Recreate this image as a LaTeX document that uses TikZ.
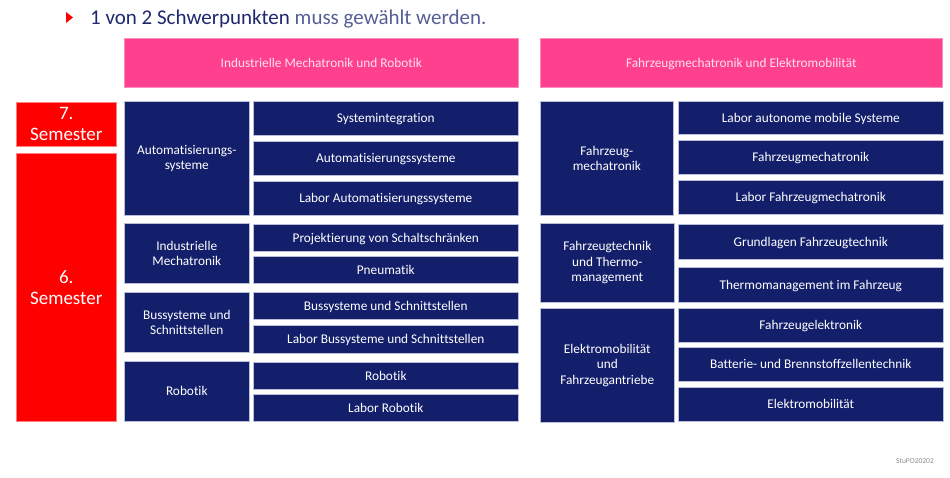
\documentclass[tikz,border=0pt]{standalone}
\usepackage{fontspec}
\setmainfont[Ligatures=NoCommon]{Carlito}
\usepackage{xcolor}
\usepackage{tikz}
\usetikzlibrary{shapes}

\definecolor{navy}{RGB}{19,31,107}
\definecolor{titleblue}{RGB}{30,40,110}
\definecolor{titlegray}{RGB}{85,95,150}
\definecolor{headpink}{RGB}{255,64,143}
\definecolor{semred}{RGB}{255,0,0}
\definecolor{boxline}{RGB}{185,190,215}

\begin{document}
\begin{tikzpicture}[x=1pt, y=-1pt,
    box/.style={rectangle, draw=boxline, line width=0.6pt, fill=navy, text=white, inner sep=0pt, anchor=north west, align=center, font=\fontsize{13.3}{15.5}\selectfont},
    course/.style={box, text height=8.6pt, text depth=0pt},
    head/.style={course, fill=headpink, draw=headpink!60, text=white!85!headpink},
    sem/.style={box, fill=semred, draw=semred!50, font=\fontsize{19}{21}\selectfont}]
    \useasboundingbox (0,0) rectangle (950,478);

    % Title
    \fill[semred] (66,12) coordinate (tri) -- (73,17.5) -- (66,23) -- cycle;
    \node (title) [anchor=base west, inner sep=0pt, font=\fontsize{21}{24}\selectfont] at (90,25)
        {\textcolor{titleblue}{1 von 2 Schwerpunkten} \textcolor{titlegray}{muss gewählt werden.}};

    % Headers
    \node (headIMR) [head, minimum width=394, minimum height=49] at (124,38) {Industrielle Mechatronik und Robotik};
    \node (headFE) [head, minimum width=402, minimum height=49] at (540,38) {Fahrzeugmechatronik und Elektromobilität};

    % Semesters
    \node (sem7) [sem, minimum width=100, minimum height=44] at (16,102) {7.\\Semester};
    \node (sem6) [sem, minimum width=100, minimum height=268] at (16,153) {6.\\Semester};

    % Industrielle Mechatronik und Robotik
    \node (catAuto) [box, minimum width=125, minimum height=114] at (124,101) {Automatisierungs-\\systeme};
    \node (catIndu) [box, minimum width=125, minimum height=60] at (124,223) {Industrielle\\Mechatronik};
    \node (catBus) [box, minimum width=125, minimum height=60] at (124,292) {Bussysteme und\\Schnittstellen};
    \node (catRobo) [course, minimum width=125, minimum height=60] at (124,361) {Robotik};

    \node (sysint) [course, minimum width=265, minimum height=34] at (253,101) {Systemintegration};
    \node (autosys) [course, minimum width=265, minimum height=34] at (253,141) {Automatisierungssysteme};
    \node (labauto) [course, minimum width=265, minimum height=34] at (253,181) {Labor Automatisierungssysteme};
    \node (projekt) [course, minimum width=265, minimum height=27] at (253,224) {Projektierung von Schaltschränken};
    \node (pneu) [course, minimum width=265, minimum height=27] at (253,256) {Pneumatik};
    \node (bussys) [course, minimum width=265, minimum height=27] at (253,292) {Bussysteme und Schnittstellen};
    \node (labbus) [course, minimum width=265, minimum height=28] at (253,325) {Labor Bussysteme und Schnittstellen};
    \node (robo) [course, minimum width=265, minimum height=27] at (253,362) {Robotik};
    \node (labrobo) [course, minimum width=265, minimum height=27] at (253,394) {Labor Robotik};

    % Fahrzeugmechatronik und Elektromobilitaet
    \node (catFahr) [box, minimum width=133, minimum height=114] at (540,101) {Fahrzeug-\\mechatronik};
    \node (catThermo) [box, minimum width=134, minimum height=79] at (540,223) {Fahrzeugtechnik\\und Thermo-\\management};
    \node (catElek) [box, minimum width=134, minimum height=114] at (540,308) {Elektromobilität\\und\\Fahrzeugantriebe};

    \node (labauton) [course, minimum width=265, minimum height=33] at (678,101) {Labor autonome mobile Systeme};
    \node (fzmech) [course, minimum width=265, minimum height=34] at (678,140) {Fahrzeugmechatronik};
    \node (labfzmech) [course, minimum width=265, minimum height=34] at (678,180) {Labor Fahrzeugmechatronik};
    \node (grundl) [course, minimum width=265, minimum height=35] at (678,224) {Grundlagen Fahrzeugtechnik};
    \node (thermo) [course, minimum width=265, minimum height=35] at (678,267) {Thermomanagement im Fahrzeug};
    \node (fzelek) [course, minimum width=265, minimum height=34] at (678,308) {Fahrzeugelektronik};
    \node (batt) [course, minimum width=265, minimum height=34] at (678,347) {Batterie- und Brennstoffzellentechnik};
    \node (elekmob) [course, minimum width=265, minimum height=34] at (678,387) {Elektromobilität};

    % Footer
    \node (stupo) [anchor=base east, inner sep=0pt, text=black!45, font=\fontsize{7.5}{8}\selectfont] at (934,463) {StuPO20202};
\end{tikzpicture}
\end{document}
